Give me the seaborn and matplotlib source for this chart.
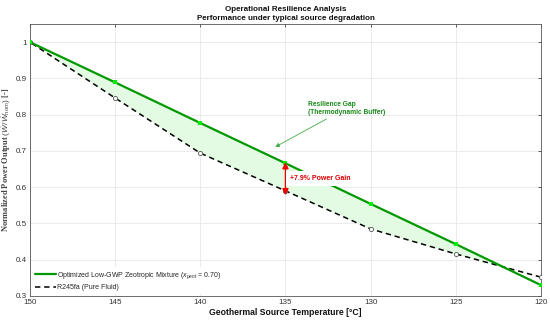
import numpy as np
import pandas as pd
import seaborn as sns
import matplotlib.pyplot as plt
from matplotlib.ticker import FormatStrFormatter

# data
temps = [150, 145, 140, 135, 130, 125, 120]
mixture = [1.0, 0.889, 0.777, 0.666, 0.554, 0.443, 0.330]
r245fa = [1.0, 0.846, 0.694, 0.590, 0.485, 0.416, 0.352]
mix_label = 'Optimized Low-GWP Zeotropic Mixture ($x_{pent}$ = 0.70)'
ref_label = 'R245fa (Pure Fluid)'

sns.set_theme(style='whitegrid')
plt.rcParams['font.family'] = ['Liberation Sans', 'DejaVu Sans']
plt.rcParams['mathtext.fontset'] = 'custom'
plt.rcParams['mathtext.rm'] = 'Liberation Sans'
plt.rcParams['mathtext.it'] = 'Liberation Sans:italic'

df = pd.DataFrame({'T': temps, 'mix': mixture, 'ref': r245fa})

fig = plt.figure(figsize=(5.5, 3.23), dpi=100)
ax = fig.add_axes([0.0545, 0.0836, 0.929, 0.842])

mix_arr = np.array(mixture)
ref_arr = np.array(r245fa)
ax.fill_between(temps, ref_arr, mix_arr, where=mix_arr >= ref_arr,
                interpolate=True, color='#e3fbe3', linewidth=0, zorder=1)

sns.lineplot(data=df, x='T', y='mix', ax=ax, color='#009900', linewidth=1.6,
             label=mix_label, zorder=3)
sns.lineplot(data=df, x='T', y='ref', ax=ax, color='black', linewidth=1.1,
             linestyle=(0, (3.5, 2.5)), label=ref_label, zorder=2)
ax.scatter(df['T'], df['ref'], s=9, facecolor='white', edgecolor='#555555',
           linewidth=0.6, zorder=4)
ax.scatter(df['T'], df['mix'], s=9, marker='s', color='#00ee00',
           linewidth=0, zorder=5)

ax.set_xlim(150, 120)
ax.set_ylim(0.3, 1.05)
ax.set_xticks(temps)
ax.set_yticks([0.3, 0.4, 0.5, 0.6, 0.7, 0.8, 0.9, 1.0])
ax.yaxis.set_major_formatter(FormatStrFormatter('%g'))
ax.tick_params(axis='both', labelsize=5.8, direction='in', length=2.5,
               width=0.6, color='#444444', top=True, right=True,
               labelcolor='#333333', pad=2.5)
ax.grid(True, color='#e8e8e8', linewidth=0.6)
for s in ax.spines.values():
    s.set_color('#555555')
    s.set_linewidth(0.6)

ax.set_xlabel('Geothermal Source Temperature [°C]', fontsize=6.2,
              fontweight='bold', labelpad=1, color='#111111')
ax.set_ylabel(r'Normalized Power Output $(\dot{W}/\dot{W}_{nom})$ [-]',
              fontsize=6, fontfamily='Liberation Serif', fontweight='bold',
              labelpad=2, color='#444444')
ax.set_title('Operational Resilience Analysis\nPerformance under typical source degradation',
             fontsize=5.8, fontweight='bold', pad=3, linespacing=1.3,
             color='#111111')

# annotations
ax.annotate('Resilience Gap\n(Thermodynamic Buffer)', xy=(135.6, 0.711),
            xytext=(133.7, 0.818), fontsize=4.8, color='#1a8a1a',
            fontweight='bold', ha='left', va='center',
            arrowprops=dict(arrowstyle='-|>', color='#44aa44', lw=0.6,
                            mutation_scale=6, shrinkA=0, shrinkB=0))
ax.annotate('', xy=(135, 0.669), xytext=(135, 0.578),
            arrowprops=dict(arrowstyle='<|-|>', color='#ee0000', lw=1.0,
                            mutation_scale=9, shrinkA=0, shrinkB=0), zorder=6)
ax.text(134.72, 0.624, '+7.9% Power Gain', fontsize=5, color='#dd0000',
        fontweight='bold', ha='left', va='center', zorder=7,
        bbox=dict(facecolor='white', edgecolor='none', pad=3))

leg = ax.legend(loc='lower left', fontsize=5, frameon=True, handlelength=3,
                borderaxespad=0.3, labelspacing=0.5, handletextpad=0.2)
leg.get_frame().set_facecolor('white')
leg.get_frame().set_edgecolor('none')
leg.get_frame().set_alpha(1)

fig.savefig('out.png', dpi=100)
